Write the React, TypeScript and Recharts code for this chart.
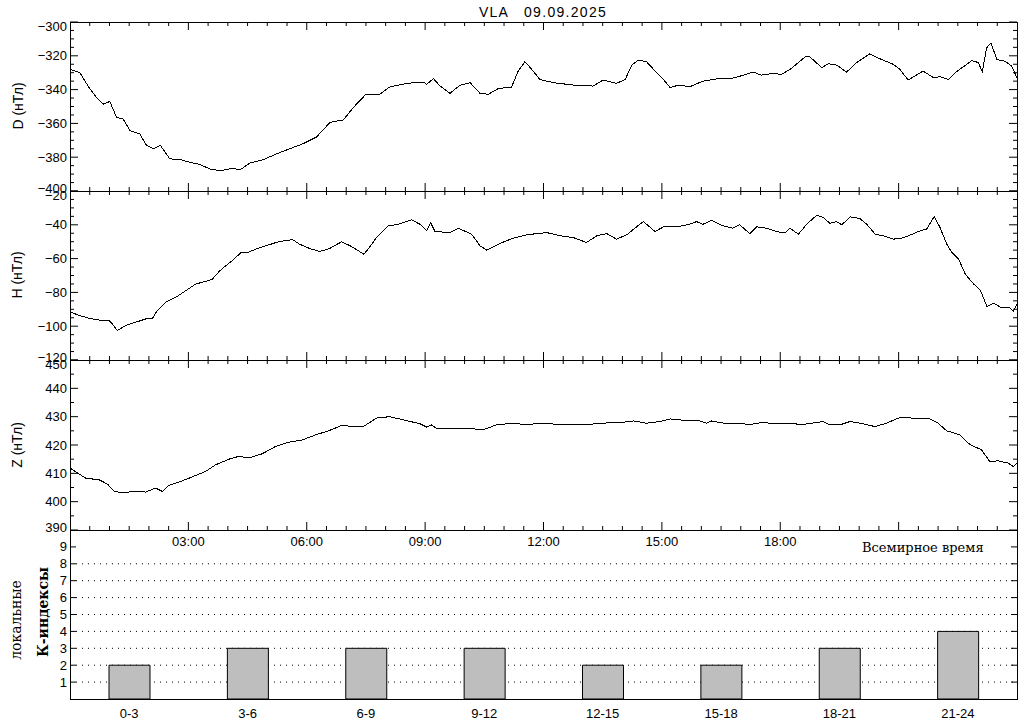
import React from "react";
import { LineChart, Line, BarChart, Bar, XAxis, YAxis, CartesianGrid } from "recharts";

// заголовок
const title = "VLA   09.09.2025";

// D (склонение), нТл
const dHours = [0, 0.25, 0.46, 0.67, 0.84, 1.01, 1.18, 1.35, 1.52, 1.77, 1.94, 2.11, 2.29, 2.53, 2.79, 3.04, 3.29, 3.55, 3.8, 4.13, 4.31, 4.56, 4.9, 5.24, 5.57, 5.91, 6.25, 6.59, 6.93, 7.18, 7.49, 7.85, 8.1, 8.53, 8.95, 9.04, 9.21, 9.38, 9.63, 9.88, 10.14, 10.39, 10.6, 10.85, 11.19, 11.36, 11.53, 11.7, 11.91, 12.25, 12.75, 13.26, 13.51, 13.85, 14.07, 14.24, 14.4, 14.61, 14.83, 15.04, 15.21, 15.42, 15.71, 16.04, 16.47, 16.8, 17.14, 17.31, 17.52, 17.82, 18.03, 18.25, 18.41, 18.63, 18.75, 19.05, 19.22, 19.43, 19.68, 19.94, 20.27, 20.53, 20.86, 21.03, 21.24, 21.41, 21.62, 21.88, 22.05, 22.26, 22.43, 22.73, 22.85, 23.02, 23.12, 23.23, 23.34, 23.49, 23.7, 23.86, 24];
const dValues = [-328, -330, -338, -344.7, -348.6, -347, -356.5, -357.5, -364.3, -366.3, -373, -375, -373, -381, -381.4, -383, -384.3, -387, -388, -386.5, -387.5, -383.4, -381.4, -378, -375, -372, -368, -359.4, -357.9, -350.6, -343, -342.8, -338.5, -336.3, -335.5, -336.9, -333.5, -337.9, -342.2, -337.5, -335.9, -342.2, -342.8, -339.4, -338.5, -329, -323.5, -328, -334, -335.9, -337.3, -337.9, -334.3, -336.3, -334, -325.5, -322.6, -323.5, -329, -334, -338.9, -337.3, -338.3, -335, -333.4, -333.2, -331, -329.6, -331.4, -330.4, -331, -328, -325, -320.6, -320.6, -327, -324.7, -325.5, -329.6, -324, -318.8, -321.8, -325, -328, -334.3, -332, -329, -332.9, -332.4, -334, -330, -325, -322.8, -324, -329.4, -315.3, -312.4, -322.2, -323.2, -326, -333];

// H (горизонтальная составляющая), нТл
const hHours = [0, 0.19, 0.48, 0.82, 0.99, 1.07, 1.2, 1.41, 1.66, 1.92, 2.08, 2.21, 2.42, 2.68, 2.93, 3.19, 3.44, 3.61, 3.78, 3.95, 4.16, 4.33, 4.5, 4.71, 4.97, 5.22, 5.48, 5.65, 5.82, 6.07, 6.33, 6.58, 6.88, 7.1, 7.45, 7.6, 7.77, 8.07, 8.32, 8.66, 8.87, 9.04, 9.14, 9.25, 9.63, 9.84, 10.18, 10.39, 10.56, 10.9, 11.23, 11.57, 12.08, 12.42, 12.75, 13.09, 13.35, 13.6, 13.85, 14.11, 14.36, 14.53, 14.83, 15.04, 15.38, 15.7, 15.88, 16.04, 16.26, 16.55, 16.8, 16.97, 17.23, 17.4, 17.65, 17.91, 18.12, 18.25, 18.46, 18.67, 18.92, 19.09, 19.26, 19.43, 19.56, 19.77, 20.02, 20.19, 20.41, 20.62, 20.86, 21.08, 21.29, 21.54, 21.71, 21.9, 22.05, 22.22, 22.35, 22.52, 22.69, 22.9, 23.07, 23.24, 23.41, 23.62, 23.82, 23.91, 24];
const hValues = [-91.4, -93.3, -95.3, -96.7, -96.7, -98.6, -102.6, -99.6, -97.7, -95.7, -95.7, -90.8, -85.9, -82.9, -79, -75, -73.5, -72.1, -67.6, -64.2, -60.3, -56.4, -56.4, -54.4, -52.4, -50.5, -49.1, -48.9, -51.5, -54, -55.8, -54, -50.1, -52.4, -57.4, -53, -47.5, -40.6, -39.7, -37.1, -39.7, -43.6, -38.7, -44, -44.6, -42, -45.6, -52.4, -55, -51, -47.9, -45.9, -44.6, -46.5, -47.5, -50.5, -46.5, -45.2, -48.5, -45.9, -41.2, -38.1, -44, -41.2, -41.2, -39.7, -38.1, -39.7, -37.3, -40.6, -42, -40, -45.2, -41.2, -42, -44, -44.9, -42, -45.6, -39.7, -34.4, -35.7, -39.1, -38.1, -40, -35.3, -36.3, -39.7, -45.6, -46.5, -48.5, -47.9, -46.1, -43.6, -42.5, -35.1, -41.6, -51.5, -56.4, -60.3, -69.2, -75, -78.6, -88.4, -86.4, -89.2, -89.2, -91.2, -86.8];

// Z (вертикальная составляющая), нТл
const zHours = [0, 0.19, 0.4, 0.74, 0.95, 1.12, 1.37, 1.58, 1.92, 2.17, 2.34, 2.51, 2.76, 3.02, 3.44, 3.69, 4.03, 4.28, 4.53, 4.87, 5.21, 5.55, 5.89, 6.23, 6.57, 6.87, 7.43, 7.77, 8.1, 8.53, 8.87, 9.04, 9.16, 9.29, 9.8, 10.22, 10.47, 10.81, 11.23, 11.57, 11.91, 12.58, 13.09, 13.43, 13.94, 14.28, 14.61, 14.95, 15.21, 15.7, 15.97, 16.14, 16.26, 16.64, 17.02, 17.19, 17.48, 17.99, 18.33, 18.5, 18.84, 19.09, 19.26, 19.51, 19.77, 20.1, 20.4, 20.69, 21.03, 21.37, 21.79, 22, 22.22, 22.55, 22.81, 23.1, 23.31, 23.53, 23.78, 23.91, 24];
const zValues = [411.9, 410.1, 408.3, 407.7, 406.2, 403.6, 403.1, 403.6, 403.4, 404.8, 403.6, 405.8, 406.9, 408.3, 410.7, 413, 415, 416, 415.4, 416.9, 419.5, 421, 421.8, 423.6, 425.1, 426.8, 426.5, 429.5, 430, 428.6, 427.5, 426.3, 427.1, 425.9, 425.9, 425.7, 425.4, 427.1, 427.7, 427.1, 427.7, 427.1, 427.1, 427.7, 427.9, 428.5, 427.7, 428.3, 429.2, 428.5, 428.5, 427.7, 428.5, 427.5, 427.7, 427.1, 427.8, 427.7, 427.7, 427.1, 427.8, 428.3, 427.1, 427.1, 428.3, 427.5, 426.5, 427.7, 429.7, 429.5, 429.2, 427.7, 425, 423.6, 420.1, 418.3, 414.2, 414.4, 413.6, 412.4, 413.6];

// локальные К-индексы
const kCategories = ["0-3", "3-6", "6-9", "9-12", "12-15", "15-18", "18-21", "21-24"];
const kValues = [2, 3, 3, 3, 2, 2, 3, 4];
const kTicks = [1, 2, 3, 4, 5, 6, 7, 8, 9];
const kGridLines = [1, 2, 3, 4, 5, 6, 7, 8];

const timeLabelHours = [3, 6, 9, 12, 15, 18];
const timeLabels = ["03:00", "06:00", "09:00", "12:00", "15:00", "18:00"];

const W = 1024;
const PLOT_L = 70;
const PLOT_R = 1017;
const PLOT_W = PLOT_R - PLOT_L;
const PAD = 12;
const FONT = "'Liberation Sans', Arial, sans-serif";
const SERIF = "'DejaVu Serif', serif";

const halfHours = Array.from({ length: 49 }, (_, i) => i / 2);

function steps(lo: number, hi: number, step: number) {
  const out: number[] = [];
  for (let v = lo; v <= hi + 1e-9; v += step) out.push(v);
  return out;
}

function ValueTick(props: any) {
  const { x, y, payload, major, lo, hi } = props;
  const v = payload.value;
  const isMajor = Math.abs(v % major) < 1e-6;
  const len = isMajor ? 8 : 4;
  let dy = 0;
  if (v === hi) dy = 4;
  if (v === lo) dy = -3;
  const label = v < 0 ? "\u2212" + Math.abs(v) : String(v);
  return (
    <g>
      <line x1={x} x2={x + len} y1={y} y2={y} stroke="#000" />
      <line x1={x + PLOT_W} x2={x + PLOT_W - len} y1={y} y2={y} stroke="#000" />
      {isMajor && (
        <text x={x - 3} y={y + dy} textAnchor="end" dominantBaseline="central" fontSize={13} fontFamily={FONT} fill="#000">
          {label}
        </text>
      )}
    </g>
  );
}

function TimeTick(props: any) {
  const { x, y, payload, h, showTime } = props;
  const v = payload.value;
  if (v <= 0 || v >= 24) return <g />;
  const isMajor = v % 3 === 0;
  const len = isMajor ? 8 : 4;
  const idx = timeLabelHours.indexOf(v);
  return (
    <g>
      <line x1={x} x2={x} y1={y} y2={y - len} stroke="#000" />
      <line x1={x} x2={x} y1={y - h} y2={y - h + len} stroke="#000" />
      {showTime && idx >= 0 && (
        <text x={x} y={y + 16} textAnchor="middle" fontSize={13} fontFamily={FONT} fill="#000">
          {timeLabels[idx]}
        </text>
      )}
    </g>
  );
}

type PanelProps = {
  hours: number[];
  values: number[];
  lo: number;
  hi: number;
  major: number;
  top: number;
  h: number;
  showTime?: boolean;
};

function Panel({ hours, values, lo, hi, major, top, h, showTime }: PanelProps) {
  const data = hours.map((t, i) => ({ t, v: values[i] }));
  return (
    <div style={{ position: "absolute", left: 0, top: top - PAD }}>
      <LineChart width={W} height={PAD + h + 40} data={data} margin={{ top: PAD, right: W - PLOT_R, bottom: 0, left: 0 }}>
        <XAxis
          type="number"
          dataKey="t"
          domain={[0, 24]}
          ticks={halfHours}
          interval={0}
          height={40}
          tickSize={0}
          tickMargin={0}
          axisLine={false}
          tickLine={false}
          allowDataOverflow
          tick={(p: any) => <TimeTick {...p} h={h} showTime={showTime} />}
        />
        <YAxis
          type="number"
          domain={[lo, hi]}
          ticks={steps(lo, hi, 5)}
          interval={0}
          width={PLOT_L}
          tickSize={0}
          tickMargin={0}
          axisLine={false}
          tickLine={false}
          allowDataOverflow
          tick={(p: any) => <ValueTick {...p} major={major} lo={lo} hi={hi} />}
        />
        <Line dataKey="v" type="linear" stroke="#000" strokeWidth={1} dot={false} isAnimationActive={false} />
      </LineChart>
    </div>
  );
}

function KTick(props: any) {
  const { x, y, payload } = props;
  return (
    <g>
      <line x1={x} x2={x + 6} y1={y} y2={y} stroke="#000" />
      <line x1={x + PLOT_W} x2={x + PLOT_W - 6} y1={y} y2={y} stroke="#000" />
      <text x={x - 3} y={y} textAnchor="end" dominantBaseline="central" fontSize={13} fontFamily={FONT} fill="#000">
        {payload.value}
      </text>
    </g>
  );
}

function CatTick(props: any) {
  const { x, y, payload } = props;
  return (
    <text x={x} y={y + 19} textAnchor="middle" fontSize={13} fontFamily={FONT} fill="#000">
      {payload.value}
    </text>
  );
}

function KPanel({ top, h }: { top: number; h: number }) {
  const data = kCategories.map((c, i) => ({ c, k: kValues[i] }));
  return (
    <div style={{ position: "absolute", left: 0, top: top - PAD }}>
      <BarChart width={W} height={PAD + h + 30} data={data} margin={{ top: PAD, right: W - PLOT_R, bottom: 0, left: 0 }}>
        <CartesianGrid vertical={false} horizontalValues={kGridLines} stroke="#000" strokeDasharray="1 5" />
        <XAxis dataKey="c" height={30} interval={0} tickSize={0} tickMargin={0} axisLine={false} tickLine={false} tick={CatTick} />
        <YAxis
          type="number"
          domain={[0, 10]}
          ticks={kTicks}
          interval={0}
          width={PLOT_L}
          tickSize={0}
          tickMargin={0}
          axisLine={false}
          tickLine={false}
          tick={KTick}
        />
        <Bar dataKey="k" fill="#bebebe" stroke="#000" strokeWidth={1} barSize={41} isAnimationActive={false} />
      </BarChart>
    </div>
  );
}

const panels = [
  { top: 22, h: 169 },
  { top: 191, h: 169 },
  { top: 360, h: 170 },
  { top: 530, h: 169 },
];

export default function App() {
  return (
    <div style={{ position: "absolute", left: 0, top: 0, width: W, height: 720, background: "#fff", overflow: "hidden" }}>
      {/* кривые без сглаживания, как в оригинале */}
      <style>{`.recharts-line-curve { shape-rendering: crispEdges; }`}</style>
      <Panel hours={dHours} values={dValues} lo={-400} hi={-300} major={20} top={panels[0].top} h={panels[0].h} />
      <Panel hours={hHours} values={hValues} lo={-120} hi={-20} major={20} top={panels[1].top} h={panels[1].h} />
      <KPanel top={panels[3].top} h={panels[3].h} />
      <Panel hours={zHours} values={zValues} lo={390} hi={450} major={10} top={panels[2].top} h={panels[2].h} showTime />

      {/* рамки и подписи */}
      <svg width={W} height={720} style={{ position: "absolute", left: 0, top: 0, pointerEvents: "none" }}>
        {panels.map((p, i) => (
          <rect key={i} x={PLOT_L + 0.5} y={p.top + 0.5} width={PLOT_W} height={p.h} fill="none" stroke="#000" />
        ))}
        <text x={543} y={17} textAnchor="middle" fontSize={14} letterSpacing={1.3} fontFamily={FONT} style={{ whiteSpace: "pre" }}>
          {title}
        </text>
        <text transform="translate(18,106) rotate(-90)" textAnchor="middle" dominantBaseline="central" fontSize={14} fontFamily={FONT}>
          D (нТл)
        </text>
        <text transform="translate(17,275) rotate(-90)" textAnchor="middle" dominantBaseline="central" fontSize={14} fontFamily={FONT}>
          H (нТл)
        </text>
        <text transform="translate(17,445) rotate(-90)" textAnchor="middle" dominantBaseline="central" fontSize={14} fontFamily={FONT}>
          Z (нТл)
        </text>
        <text transform="translate(16,620) rotate(-90)" textAnchor="middle" dominantBaseline="central" fontSize={14} fontFamily={SERIF}>
          локальные
        </text>
        <text transform="translate(43,612) rotate(-90)" textAnchor="middle" dominantBaseline="central" fontSize={14} fontWeight="bold" fontFamily={SERIF}>
          К-индексы
        </text>
        <text x={862} y={552} fontSize={13} fontFamily={SERIF}>
          Всемирное время
        </text>
      </svg>
    </div>
  );
}
